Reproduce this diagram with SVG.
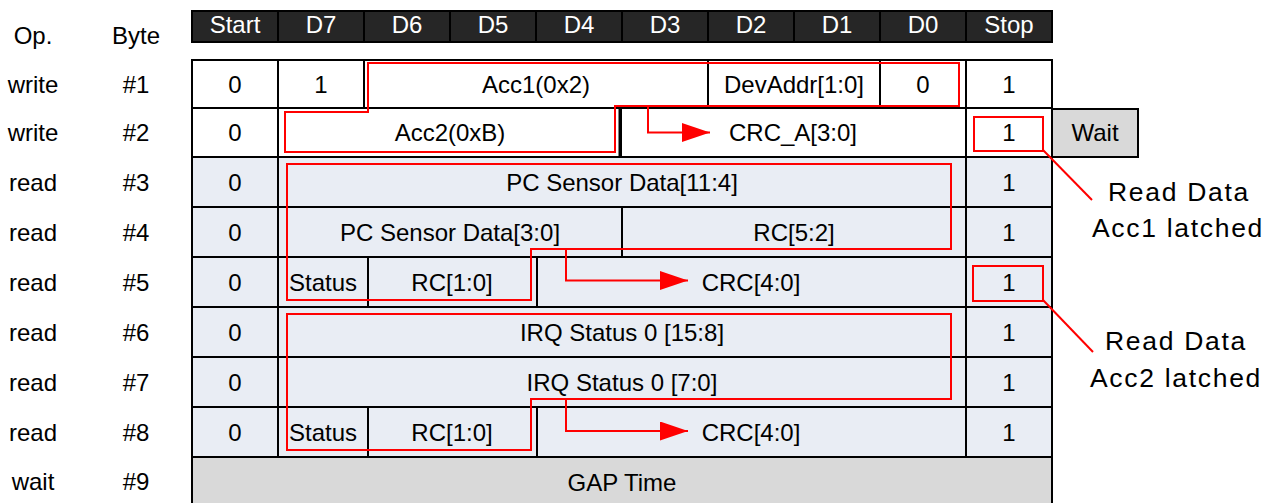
<svg xmlns="http://www.w3.org/2000/svg" width="1277" height="503" viewBox="0 0 1277 503">
<style>
.t{font-family:"Liberation Sans",Arial,sans-serif;font-size:24px;text-anchor:middle;fill:#000}
.ht{font-family:"Liberation Sans",Arial,sans-serif;font-size:24px;text-anchor:middle;fill:#fff}
.note{font-family:"Liberation Sans",Arial,sans-serif;font-size:26.5px;letter-spacing:1.7px;text-anchor:middle;fill:#000}
.h{fill:#262626;stroke:#000;stroke-width:2}
.w{fill:#fff;stroke:#000;stroke-width:2}
.b{fill:#e9edf4;stroke:#000;stroke-width:2}
.g{fill:#d9d9d9;stroke:#000;stroke-width:2}
.r{fill:none;stroke:#f00;stroke-width:2}
</style>
<defs>
<marker id="ah" markerUnits="userSpaceOnUse" markerWidth="28" markerHeight="19" refX="28" refY="9.5" orient="auto">
<path d="M0,0 L28,9.5 L0,19 Z" fill="#f00"/>
</marker>
</defs>
<rect width="1277" height="503" fill="#fff"/>
<g id="labels">
<text class="t" x="33" y="44">Op.</text><text class="t" x="136" y="44">Byte</text>
<text class="t" x="33" y="92.5">write</text><text class="t" x="136" y="92.5">#1</text>
<text class="t" x="33" y="141">write</text><text class="t" x="136" y="141">#2</text>
<text class="t" x="33" y="190.5">read</text><text class="t" x="136" y="190.5">#3</text>
<text class="t" x="33" y="240.5">read</text><text class="t" x="136" y="240.5">#4</text>
<text class="t" x="33" y="290.5">read</text><text class="t" x="136" y="290.5">#5</text>
<text class="t" x="33" y="340.5">read</text><text class="t" x="136" y="340.5">#6</text>
<text class="t" x="33" y="390.5">read</text><text class="t" x="136" y="390.5">#7</text>
<text class="t" x="33" y="440.5">read</text><text class="t" x="136" y="440.5">#8</text>
<text class="t" x="33" y="490">wait</text><text class="t" x="136" y="490">#9</text>
</g>
<g id="header">
<rect class="h" x="192" y="11" width="86" height="31"/><text class="ht" x="235" y="33">Start</text>
<rect class="h" x="278" y="11" width="86" height="31"/><text class="ht" x="321" y="33">D7</text>
<rect class="h" x="364" y="11" width="86" height="31"/><text class="ht" x="407" y="33">D6</text>
<rect class="h" x="450" y="11" width="86" height="31"/><text class="ht" x="493" y="33">D5</text>
<rect class="h" x="536" y="11" width="86" height="31"/><text class="ht" x="579" y="33">D4</text>
<rect class="h" x="622" y="11" width="86" height="31"/><text class="ht" x="665" y="33">D3</text>
<rect class="h" x="708" y="11" width="86" height="31"/><text class="ht" x="751" y="33">D2</text>
<rect class="h" x="794" y="11" width="86" height="31"/><text class="ht" x="837" y="33">D1</text>
<rect class="h" x="880" y="11" width="86" height="31"/><text class="ht" x="923" y="33">D0</text>
<rect class="h" x="966" y="11" width="86" height="31"/><text class="ht" x="1009" y="33">Stop</text>
</g>
<g id="row1">
<rect class="w" x="192" y="60" width="86" height="48"/><text class="t" x="235" y="92.5">0</text>
<rect class="w" x="278" y="60" width="86" height="48"/><text class="t" x="321" y="92.5">1</text>
<rect class="w" x="364" y="60" width="344" height="48"/><text class="t" x="536" y="92.5">Acc1(0x2)</text>
<rect class="w" x="708" y="60" width="172" height="48"/><text class="t" x="794" y="92.5">DevAddr[1:0]</text>
<rect class="w" x="880" y="60" width="86" height="48"/><text class="t" x="923" y="92.5">0</text>
<rect class="w" x="966" y="60" width="86" height="48"/><text class="t" x="1009" y="92.5">1</text>
</g>
<g id="row2">
<rect class="w" x="192" y="108" width="86" height="49"/><text class="t" x="235" y="141">0</text>
<rect class="w" x="278" y="108" width="342" height="49"/><text class="t" x="450" y="141">Acc2(0xB)</text>
<rect class="w" x="621" y="108" width="345" height="49"/><text class="t" x="793" y="141">CRC_A[3:0]</text>
<line x1="620" y1="108" x2="620" y2="157" stroke="#000" stroke-width="3"/>
<rect class="w" x="966" y="108" width="86" height="49"/><text class="t" x="1009" y="141">1</text>
</g>
<g id="wait">
<rect class="g" x="1052" y="109" width="86" height="48"/><text class="t" x="1095" y="141">Wait</text>
</g>
<g id="row3">
<rect class="b" x="192" y="157" width="86" height="50"/><text class="t" x="235" y="190.5">0</text>
<rect class="b" x="278" y="157" width="688" height="50"/><text class="t" x="622" y="190.5">PC Sensor Data[11:4]</text>
<rect class="b" x="966" y="157" width="86" height="50"/><text class="t" x="1009" y="190.5">1</text>
</g>
<g id="row4">
<rect class="b" x="192" y="207" width="86" height="50"/><text class="t" x="235" y="240.5">0</text>
<rect class="b" x="278" y="207" width="344" height="50"/><text class="t" x="450" y="240.5">PC Sensor Data[3:0]</text>
<rect class="b" x="622" y="207" width="344" height="50"/><text class="t" x="794" y="240.5">RC[5:2]</text>
<rect class="b" x="966" y="207" width="86" height="50"/><text class="t" x="1009" y="240.5">1</text>
</g>
<g id="row5">
<rect class="b" x="192" y="257" width="86" height="50"/><text class="t" x="235" y="290.5">0</text>
<rect class="b" x="278" y="257" width="90" height="50"/><text class="t" x="323" y="290.5">Status</text>
<rect class="b" x="368" y="257" width="169" height="50"/><text class="t" x="452" y="290.5">RC[1:0]</text>
<rect class="b" x="537" y="257" width="429" height="50"/><text class="t" x="751" y="290.5">CRC[4:0]</text>
<rect class="b" x="966" y="257" width="86" height="50"/><text class="t" x="1009" y="290.5">1</text>
</g>
<g id="row6">
<rect class="b" x="192" y="307" width="86" height="50"/><text class="t" x="235" y="340.5">0</text>
<rect class="b" x="278" y="307" width="688" height="50"/><text class="t" x="622" y="340.5">IRQ Status 0 [15:8]</text>
<rect class="b" x="966" y="307" width="86" height="50"/><text class="t" x="1009" y="340.5">1</text>
</g>
<g id="row7">
<rect class="b" x="192" y="357" width="86" height="50"/><text class="t" x="235" y="390.5">0</text>
<rect class="b" x="278" y="357" width="688" height="50"/><text class="t" x="622" y="390.5">IRQ Status 0 [7:0]</text>
<rect class="b" x="966" y="357" width="86" height="50"/><text class="t" x="1009" y="390.5">1</text>
</g>
<g id="row8">
<rect class="b" x="192" y="407" width="86" height="50"/><text class="t" x="235" y="440.5">0</text>
<rect class="b" x="278" y="407" width="90" height="50"/><text class="t" x="323" y="440.5">Status</text>
<rect class="b" x="368" y="407" width="169" height="50"/><text class="t" x="452" y="440.5">RC[1:0]</text>
<rect class="b" x="537" y="407" width="429" height="50"/><text class="t" x="751" y="440.5">CRC[4:0]</text>
<rect class="b" x="966" y="407" width="86" height="50"/><text class="t" x="1009" y="440.5">1</text>
</g>
<g id="row9">
<rect class="g" x="192" y="457" width="860" height="52"/><text class="t" x="622" y="491">GAP Time</text>
</g>
<g id="notes">
<text class="note" x="1179" y="201">Read Data</text>
<text class="note" x="1178" y="237">Acc1 latched</text>
<text class="note" x="1176" y="350">Read Data</text>
<text class="note" x="1176" y="387">Acc2 latched</text>
</g>
<g id="connectors">
<polygon class="r" points="368,63 959,63 959,106 615,106 615,152 285,152 285,112 368,112"/>
<polyline class="r" points="648,106 648,132.5 710,132.5" marker-end="url(#ah)"/>
<polygon class="r" points="287,164 951,164 951,249 531,249 531,300 287,300"/>
<polyline class="r" points="566,249 566,280.5 688,280.5" marker-end="url(#ah)"/>
<polygon class="r" points="287,314 951,314 951,399 531,399 531,450 287,450"/>
<polyline class="r" points="566,399 566,431 688,431" marker-end="url(#ah)"/>
<rect class="r" x="974" y="117" width="69" height="34"/>
<rect class="r" x="973" y="266" width="70" height="35"/>
<line class="r" x1="1043" y1="150" x2="1092" y2="200"/>
<line class="r" x1="1043" y1="300" x2="1093" y2="352"/>
</g>
</svg>
